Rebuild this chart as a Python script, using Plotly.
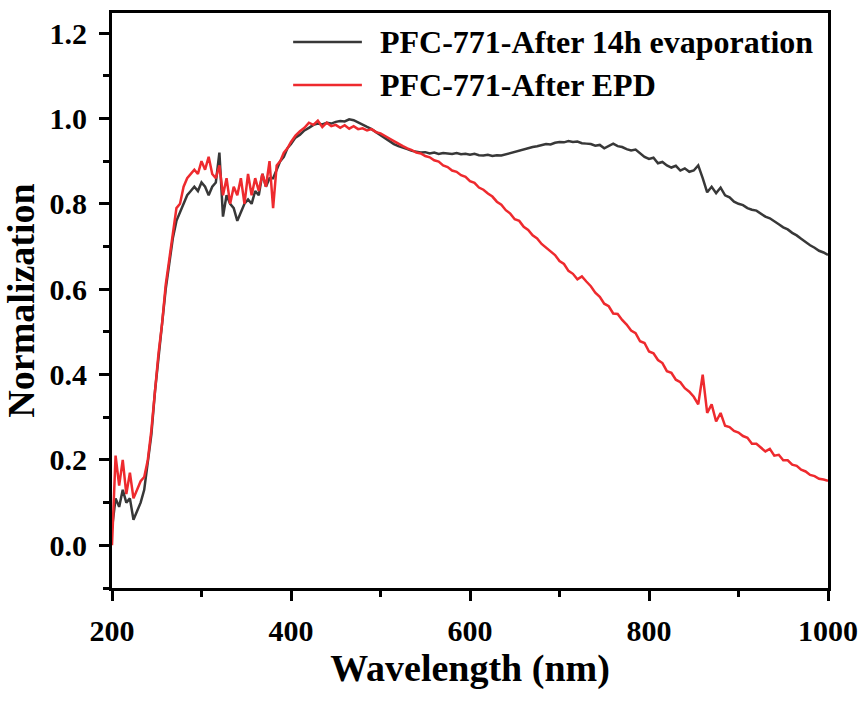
import plotly.graph_objects as go

# Wavelength sampling (nm)
wl = [200, 204, 208, 212, 216, 220, 224, 228, 232, 236, 240, 244, 248, 252, 256,
      260, 264, 268, 272, 276, 280, 284, 288, 292, 296, 300, 304, 308, 312, 316,
      320, 324, 328, 332, 336, 340, 344, 348, 352, 356, 360, 364, 368, 372, 376,
      380, 384, 388, 392, 396] + list(range(400, 1001, 5))

evap_14h = [0.04, 0.11, 0.09, 0.13, 0.10, 0.11, 0.06, 0.08, 0.10, 0.13, 0.19, 0.26, 0.36, 0.44, 0.51,
            0.60, 0.66, 0.72, 0.76, 0.78, 0.80, 0.82, 0.83, 0.84, 0.83, 0.85, 0.84, 0.82, 0.84, 0.85,
            0.92, 0.77, 0.82, 0.80, 0.79, 0.76, 0.78, 0.80, 0.81, 0.80, 0.83, 0.82, 0.87, 0.84, 0.86,
            0.86, 0.88, 0.90, 0.91, 0.93,
            # 400 .. 1000 step 5
            0.940, 0.955, 0.962, 0.972, 0.978, 0.985, 0.988, 0.986, 0.990, 0.988,
            0.992, 0.994, 0.993, 0.998, 0.996, 0.990, 0.985, 0.980, 0.975, 0.968,
            0.960, 0.955, 0.947, 0.940, 0.935, 0.932, 0.928, 0.924, 0.922, 0.920,
            0.921, 0.918, 0.920, 0.917, 0.919, 0.918, 0.917, 0.919, 0.916, 0.917,
            0.915, 0.917, 0.914, 0.913, 0.915, 0.912, 0.914, 0.913, 0.916, 0.918,
            0.922, 0.925, 0.928, 0.930, 0.933, 0.935, 0.937, 0.940, 0.939, 0.943,
            0.945, 0.944, 0.947, 0.945, 0.946, 0.942, 0.941, 0.940, 0.936, 0.938,
            0.930, 0.935, 0.941, 0.935, 0.933, 0.928, 0.925, 0.927, 0.918, 0.910,
            0.905, 0.908, 0.895, 0.898, 0.890, 0.885, 0.889, 0.878, 0.883, 0.875,
            0.878, 0.890, 0.860, 0.827, 0.840, 0.825, 0.838, 0.820, 0.815, 0.805,
            0.800, 0.797, 0.790, 0.786, 0.784, 0.776, 0.770, 0.766, 0.760, 0.752,
            0.745, 0.740, 0.732, 0.726, 0.718, 0.710, 0.703, 0.697, 0.690, 0.686,
            0.680]

after_epd = [0.00, 0.21, 0.14, 0.20, 0.12, 0.17, 0.11, 0.13, 0.15, 0.16, 0.20, 0.27, 0.36, 0.45, 0.52,
             0.61, 0.67, 0.73, 0.79, 0.80, 0.84, 0.86, 0.87, 0.88, 0.87, 0.90, 0.88, 0.91, 0.87, 0.86,
             0.89, 0.82, 0.86, 0.80, 0.84, 0.82, 0.86, 0.80, 0.87, 0.82, 0.86, 0.83, 0.87, 0.84, 0.90,
             0.79, 0.89, 0.90, 0.92, 0.93,
             # 400 .. 1000 step 5
             0.945, 0.960, 0.970, 0.978, 0.990, 0.985, 0.995, 0.980, 0.990, 0.982,
             0.985, 0.978, 0.984, 0.976, 0.982, 0.975, 0.977, 0.972, 0.975, 0.968,
             0.965, 0.958, 0.953, 0.947, 0.940, 0.935, 0.930, 0.926, 0.920, 0.918,
             0.912, 0.909, 0.902, 0.899, 0.890, 0.886, 0.878, 0.875, 0.867, 0.863,
             0.853, 0.849, 0.838, 0.833, 0.824, 0.817, 0.805, 0.798, 0.785, 0.777,
             0.764, 0.760, 0.746, 0.739, 0.726, 0.719, 0.706, 0.698, 0.688, 0.680,
             0.666, 0.659, 0.643, 0.636, 0.623, 0.630, 0.618, 0.607, 0.592, 0.582,
             0.566, 0.560, 0.543, 0.542, 0.528, 0.517, 0.503, 0.497, 0.478, 0.474,
             0.454, 0.450, 0.434, 0.427, 0.408, 0.404, 0.388, 0.382, 0.368, 0.360,
             0.348, 0.330, 0.400, 0.310, 0.330, 0.290, 0.310, 0.280, 0.277, 0.268,
             0.264, 0.256, 0.252, 0.238, 0.238, 0.230, 0.220, 0.226, 0.210, 0.212,
             0.199, 0.199, 0.189, 0.186, 0.177, 0.173, 0.165, 0.162, 0.156, 0.154,
             0.151]

names = ["PFC-771-After 14h evaporation", "PFC-771-After EPD"]
colors = ["#383838", "#ee2a2e"]

FONT = "Liberation Serif"

fig = go.Figure()
for ys, nm, col in zip([evap_14h, after_epd], names, colors):
    fig.add_trace(go.Scatter(x=wl, y=ys, mode="lines", name=nm,
                             line=dict(color=col, width=2.5), showlegend=False))

# manual legend (long line samples as in the reference)
leg_y = [0.9496, 0.8748]
for nm, col, yy in zip(names, colors, leg_y):
    fig.add_shape(type="line", xref="paper", yref="paper",
                  x0=0.253, x1=0.349, y0=yy, y1=yy,
                  line=dict(color=col, width=2.5))
    fig.add_annotation(xref="paper", yref="paper", x=0.3715, y=yy,
                       xanchor="left", yanchor="middle", showarrow=False,
                       text=nm, font=dict(family=FONT, size=32, color="black", weight="bold"))

axis_common = dict(
    showgrid=False, zeroline=False, showline=True, linecolor="black", linewidth=3,
    mirror=True, ticks="outside", ticklen=10, tickwidth=3, tickcolor="black",
    automargin=False,
    tickfont=dict(family=FONT, size=30, color="black", weight="bold"),
)

fig.update_xaxes(range=[200, 1000], dtick=200, tick0=200,
                 minor=dict(ticks="outside", dtick=100, tick0=200, ticklen=6,
                            tickwidth=3, tickcolor="black", showgrid=False),
                 title=dict(text="Wavelength (nm)", standoff=8,
                            font=dict(family=FONT, size=38, color="black", weight="bold")),
                 ticklabelstandoff=4,
                 **axis_common)
fig.update_yaxes(range=[-0.1, 1.247], dtick=0.2, tick0=0, tickformat=".1f",
                 minor=dict(ticks="outside", dtick=0.1, tick0=0, ticklen=6,
                            tickwidth=3, tickcolor="black", showgrid=False),
                 title=dict(text="Normalization", standoff=8,
                            font=dict(family=FONT, size=38, color="black", weight="bold")),
                 ticklabelstandoff=6,
                 **axis_common)

fig.update_layout(width=864, height=702,
                  margin=dict(l=112, r=36, t=13, b=114),
                  paper_bgcolor="white", plot_bgcolor="white")

fig.write_html("out.html")
